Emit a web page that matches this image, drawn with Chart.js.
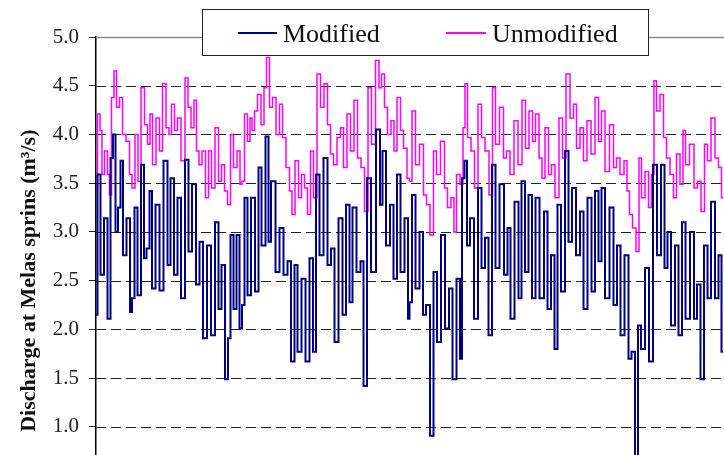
<!DOCTYPE html>
<html>
<head>
<meta charset="utf-8">
<script src="https://cdn.jsdelivr.net/npm/chart.js@4"></script>
<style>
  html, body { margin: 0; padding: 0; background: #fff; overflow: hidden; }
  #wrap { width: 724px; height: 547px; }
</style>
</head>
<body>
<div id="wrap"><canvas id="discharge-chart"></canvas></div>
<script>
// time steps (same unit for both series) and discharge values in m3/s
let modDay = [0, 3, 6, 10, 13, 16, 18, 21, 23, 26, 28, 33, 35, 37, 40, 43, 47, 49, 52, 55, 57, 62, 65, 70, 73, 76, 80, 83, 87, 91, 94, 98, 102, 105, 109, 113, 117, 121, 124, 127, 131, 133, 136, 139, 142, 145, 147, 150, 153, 157, 161, 164, 167, 172, 173, 177, 182, 185, 190, 193, 197, 200, 203, 208, 211, 216, 218, 222, 225, 230, 233, 237, 240, 245, 248, 252, 255, 258, 263, 266, 269, 273, 277, 283, 285, 288, 292, 296, 299, 303, 306, 311, 313,
  314, 318, 321, 326, 328, 332, 336, 339, 343, 347, 351, 355, 358, 363, 365, 367, 370, 372, 376, 380, 384, 387, 391, 394, 398, 401, 406, 410, 413, 416, 421, 424, 427, 431, 434, 438, 441, 446, 450, 453, 457, 460, 463, 467, 471, 474, 478, 482, 486, 489, 494, 497, 501, 504, 507, 511, 516, 519, 523, 526, 531, 534, 537, 541, 543, 547, 551, 555, 559, 563, 567, 570, 573, 577, 581, 584, 588, 591, 597, 599, 603, 606, 610, 613, 617, 621, 624, 627];
let modified = [2.15, 3.59, 2.56, 3.14, 2.11, 3.76, 4.0, 3.0, 3.25, 3.73, 2.76, 3.14, 2.18, 2.32, 3.25, 2.35, 3.69, 2.73, 2.83, 3.42, 2.42, 3.28, 2.4, 3.73, 2.66, 3.55, 2.56, 3.35, 2.32, 3.74, 2.8, 3.49, 2.46, 2.9, 1.91, 2.86, 1.94, 3.1, 2.21, 2.66, 1.49, 1.91, 2.97, 2.21, 2.97, 2.01, 2.25, 3.35, 2.35, 3.35, 2.39, 3.66, 2.86, 3.98, 2.9, 3.52, 2.59, 3.04, 2.56, 2.7, 1.67, 2.66, 1.77, 2.52, 1.67, 2.73, 1.77, 3.59, 2.76, 3.76, 2.66, 2.83, 1.87, 3.14, 2.15, 3.28, 2.28, 3.25, 2.59, 2.7, 1.42, 3.55, 2.59, 4.05, 3.28, 3.83, 2.86, 3.28, 2.52, 3.59, 2.59, 3.14, 2.11,
  2.28, 3.38, 2.42, 3.0, 2.15, 2.25, 0.91, 2.59, 1.87, 2.97, 2.01, 2.42, 1.49, 2.52, 1.7, 3.55, 3.73, 2.86, 3.14, 2.11, 3.45, 2.63, 2.94, 1.94, 3.69, 2.63, 3.49, 2.56, 3.04, 2.11, 3.31, 2.32, 3.52, 2.59, 3.38, 2.32, 3.35, 2.32, 3.21, 2.21, 2.76, 1.8, 3.28, 2.39, 3.83, 2.9, 3.45, 2.76, 3.21, 2.21, 3.35, 2.39, 3.42, 2.7, 3.45, 2.32, 3.25, 2.25, 2.86, 1.94, 2.76, 1.7, 1.77, 0.7, 2.04, 1.8, 2.63, 1.67, 3.69, 2.76, 3.69, 2.63, 3.0, 2.04, 2.86, 1.94, 3.1, 2.11, 3.0, 2.11, 2.46, 1.49, 2.86, 2.32, 3.31, 2.32, 2.76, 1.77];

let unmodDay = [0, 3, 5, 7, 10, 13, 14, 17, 19, 22, 25, 28, 32, 35, 37, 41, 43, 47, 50, 53, 55, 58, 62, 65, 68, 72, 74, 77, 80, 83, 87, 91, 93, 97, 99, 102, 104, 108, 111, 114, 117, 121, 124, 127, 130, 133, 136, 139, 143, 145, 147, 150, 153, 155, 157, 160, 163, 167, 169, 172, 175, 178, 182, 185, 188, 192, 195, 197, 201, 204, 207, 210, 213, 216, 219, 223, 226, 230, 233, 236, 239, 243, 246, 249, 253, 256, 260, 263, 267, 270, 274, 277, 282, 284, 287, 290, 293, 297, 299, 303, 306, 309, 313,
  314, 318, 321, 326, 329, 332, 336, 339, 342, 347, 350, 353, 357, 359, 362, 366, 368, 370, 373, 377, 380, 384, 387, 391, 395, 398, 401, 406, 409, 412, 416, 420, 424, 428, 431, 435, 438, 441, 445, 447, 451, 454, 457, 461, 465, 468, 472, 476, 479, 482, 486, 489, 493, 497, 501, 504, 507, 511, 516, 519, 522, 526, 530, 532, 535, 538, 542, 544, 547, 551, 554, 557, 559, 562, 566, 569, 572, 576, 579, 582, 586, 588, 591, 596, 600, 603, 607, 610, 613, 617, 621, 624, 627];
let unmodified = [3.42, 4.21, 4.04, 3.59, 3.83, 3.59, 3.38, 4.38, 4.65, 4.28, 4.38, 4.0, 3.93, 3.59, 3.45, 4.0, 3.52, 4.48, 4.1, 3.9, 4.21, 3.69, 4.17, 3.83, 4.52, 4.07, 4.0, 4.31, 4.04, 4.17, 3.73, 4.58, 4.28, 4.07, 4.35, 3.83, 3.69, 3.83, 3.35, 3.83, 3.45, 4.07, 3.52, 3.69, 3.42, 3.28, 4.0, 3.66, 3.83, 3.49, 3.52, 4.21, 3.93, 4.17, 4.04, 4.24, 4.41, 4.1, 4.48, 4.79, 4.28, 4.38, 4.0, 4.31, 3.97, 3.66, 3.42, 3.18, 3.73, 3.35, 3.59, 3.45, 3.18, 3.83, 3.35, 4.62, 4.28, 4.52, 4.1, 3.8, 3.69, 3.97, 4.07, 3.66, 4.21, 3.83, 4.35, 3.76, 3.66, 3.21, 4.48, 3.9, 4.76, 4.48, 4.62, 4.28, 4.0, 4.14, 3.83, 4.38, 4.04, 3.86, 3.55,
  3.52, 4.24, 3.69, 3.9, 3.38, 3.28, 2.97, 3.83, 3.59, 3.93, 3.45, 3.25, 3.35, 3.0, 3.59, 3.49, 4.07, 4.52, 3.97, 3.83, 3.45, 4.31, 3.97, 3.83, 3.38, 4.48, 3.9, 4.28, 3.76, 3.83, 3.59, 4.14, 3.69, 4.35, 3.86, 4.24, 3.93, 4.21, 3.76, 3.55, 4.07, 3.59, 3.69, 3.35, 4.17, 3.76, 4.62, 4.17, 4.31, 3.86, 4.07, 3.73, 4.14, 3.8, 4.38, 3.93, 4.24, 3.62, 4.1, 3.66, 3.76, 3.59, 3.73, 3.42, 3.18, 3.04, 2.8, 3.76, 3.35, 3.62, 3.25, 3.59, 4.55, 4.24, 4.41, 3.97, 3.76, 3.59, 3.35, 3.8, 3.49, 4.04, 3.69, 3.9, 3.45, 3.52, 3.21, 3.9, 3.73, 4.17, 3.76, 3.66, 3.35];

let seriesNames = ["Modified", "Unmodified"];
let seriesColors = ["#000080", "#ff00ff"];
let yTicks = [0, 0.5, 1.0, 1.5, 2.0, 2.5, 3.0, 3.5, 4.0, 4.5, 5.0];

const serif = "'Liberation Serif', 'Times New Roman', serif";

function toPoints(days, values) {
  return days.map((d, i) => ({ x: d, y: values[i] }));
}

// dashed horizontal grid lines, drawn under the data
const dashedGrid = {
  id: "dashedGrid",
  beforeDatasetsDraw(chart) {
    const ctx = chart.ctx;
    const area = chart.chartArea;
    const y = chart.scales.y;
    ctx.save();
    ctx.strokeStyle = "#222";
    ctx.lineWidth = 1;
    ctx.setLineDash([10, 5]);
    for (const v of yTicks) {
      if (v >= 5) continue;
      const py = Math.round(y.getPixelForValue(v)) + 0.5;
      ctx.beginPath();
      ctx.moveTo(area.left, py);
      ctx.lineTo(area.right, py);
      ctx.stroke();
    }
    ctx.restore();
  },
};

// boxed legend sitting over the top edge of the plot, plus the solid top line
const boxLegend = {
  id: "boxLegend",
  afterDraw(chart) {
    const ctx = chart.ctx;
    const area = chart.chartArea;
    const yTop = Math.round(chart.scales.y.getPixelForValue(5)) + 0.5;
    ctx.save();
    ctx.strokeStyle = "#8c8c8c";
    ctx.lineWidth = 1.5;
    ctx.beginPath();
    ctx.moveTo(area.left, yTop);
    ctx.lineTo(area.right, yTop);
    ctx.stroke();

    ctx.fillStyle = "#fff";
    ctx.fillRect(202.5, 9.5, 446, 46);
    ctx.strokeStyle = "#222";
    ctx.lineWidth = 1;
    ctx.strokeRect(202.5, 9.5, 446, 46);

    const items = [
      { x1: 238, x2: 277, tx: 283 },
      { x1: 446, x2: 486, tx: 492 },
    ];
    ctx.font = "26px " + serif;
    ctx.textBaseline = "alphabetic";
    chart.data.datasets.forEach((ds, i) => {
      const it = items[i];
      ctx.strokeStyle = ds.borderColor;
      ctx.lineWidth = 2;
      ctx.beginPath();
      ctx.moveTo(it.x1, 33);
      ctx.lineTo(it.x2, 33);
      ctx.stroke();
      ctx.fillStyle = "#111";
      ctx.fillText(ds.label, it.tx, 42);
    });
    ctx.restore();
  },
};

function drawChart() {
  let ctx = document.getElementById("discharge-chart").getContext("2d");
  new Chart(ctx, {
    type: "line",
    data: {
      datasets: [
        {
          label: seriesNames[0],
          data: toPoints(modDay, modified),
          borderColor: seriesColors[0],
          borderWidth: 2,
          pointRadius: 0,
          stepped: "middle",
          fill: false,
        },
        {
          label: seriesNames[1],
          data: toPoints(unmodDay, unmodified),
          borderColor: seriesColors[1],
          borderWidth: 1.5,
          pointRadius: 0,
          stepped: "middle",
          fill: false,
        },
      ],
    },
    options: {
      responsive: true,
      maintainAspectRatio: false,
      animation: false,
      layout: { padding: { top: 37, right: 0, bottom: 6, left: 0 } },
      plugins: {
        legend: { display: false },
        tooltip: { enabled: false },
      },
      scales: {
        x: {
          type: "linear",
          min: 0,
          max: 628,
          display: false,
        },
        y: {
          min: 0,
          max: 5,
          afterFit: (scale) => {
            scale.width = 96;
          },
          afterBuildTicks: (scale) => {
            scale.ticks = yTicks.map((v) => ({ value: v }));
          },
          ticks: {
            color: "#222",
            padding: 10,
            font: { family: serif, size: 21 },
            callback: (value) => Number(value).toFixed(1),
          },
          grid: {
            drawOnChartArea: false,
            tickLength: 7,
            tickColor: "#222",
          },
          border: {
            display: true,
            color: "#000",
            width: 1.5,
          },
          title: {
            display: true,
            text: "Discharge at Melas sprins (m³/s)",
            color: "#111",
            padding: { top: 16, bottom: 0 },
            font: { family: serif, size: 22, weight: "bold" },
          },
        },
      },
    },
    plugins: [dashedGrid, boxLegend],
  });
}

drawChart();
</script>
</body>
</html>
